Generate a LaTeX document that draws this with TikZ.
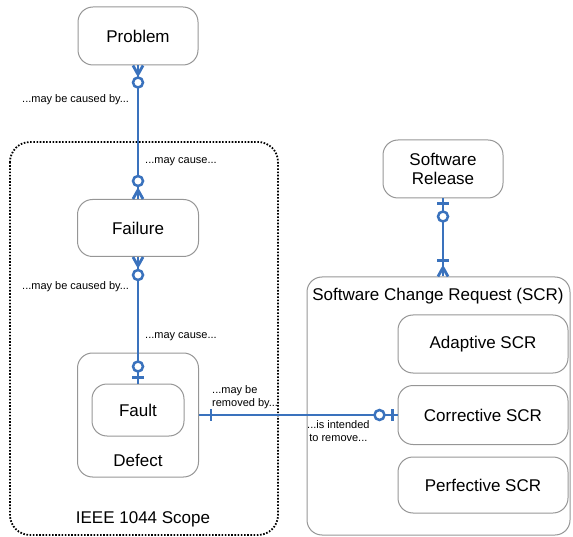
\documentclass[tikz,border=0pt]{standalone}
\usepackage{fontspec}
\setmainfont{Liberation Sans}
\usetikzlibrary{calc}
\definecolor{erblue}{RGB}{58,114,189}
\definecolor{boxgray}{RGB}{150,150,150}

\begin{document}
\begin{tikzpicture}[x=1pt,y=-1pt,
  entity/.style={draw=boxgray,line width=1pt,rounded corners=15pt,inner sep=0pt,align=center,font=\fontsize{17}{19.5}\selectfont},
  txt/.style={inner sep=0pt,font=\fontsize{17}{19.5}\selectfont},
  lbl/.style={inner sep=0pt,font=\fontsize{11}{13}\selectfont},
  rel/.style={draw=erblue,line width=2.8pt},
  ring/.style={draw=erblue,line width=2.5pt,fill=white}]
  \useasboundingbox (0,0) rectangle (573,537);

  % scope of the standard
  \draw[line width=1.8pt,dash pattern=on 1.6pt off 1.6pt,rounded corners=20pt] (10,142) rectangle (278,535);
  \node[txt] (scopetxt) at (143,519) {IEEE 1044 Scope};

  % entities on the left
  \node[entity,minimum width=120pt,minimum height=58pt] (problem) at (138,36) {Problem};
  \node[entity,minimum width=121pt,minimum height=57pt] (failure) at (138,228) {Failure};
  \node[entity,minimum width=121pt,minimum height=124pt] (defect) at (138,415) {};
  \node[entity,minimum width=92pt,minimum height=52pt] (fault) at (138,410) {Fault};
  \node[txt] (defecttxt) at (138,460) {Defect};

  % entities on the right
  \node[entity,minimum width=120pt,minimum height=58pt] (release) at (443,169) {Software\\Release};
  \node[entity,minimum width=263pt,minimum height=258pt] (scr) at (438.5,406) {};
  \node[txt] (scrtitle) at (438,296) {Software Change Request (SCR)};
  \node[entity,minimum width=170pt,minimum height=58pt] (adaptive) at (483,344) {Adaptive SCR};
  \node[entity,minimum width=170pt,minimum height=59pt] (corrective) at (483,415) {Corrective SCR};
  \node[entity,minimum width=170pt,minimum height=56pt] (perfective) at (483,485) {Perfective SCR};

  % relationships
  \draw[rel] (problem.south) -- (failure.north);
  \draw[rel] (failure.south) -- (fault.north);
  \draw[rel] (defect.east) -- (corrective.west);
  \coordinate (scrtop) at (release.south |- scr.north);
  \draw[rel] (release.south) -- (scrtop);

  % ends at problem / failure
  \draw[rel] ($(problem.south)+(0,9)$) -- ++(-5,-9) ($(problem.south)+(0,9)$) -- ++(5,-9);
  \draw[ring] ($(problem.south)+(0,17)$) circle[radius=5pt];
  \draw[rel] ($(failure.north)+(0,-9)$) -- ++(-5,9) ($(failure.north)+(0,-9)$) -- ++(5,9);
  \draw[ring] ($(failure.north)+(0,-18)$) circle[radius=5pt];
  \draw[rel] ($(failure.south)+(0,9)$) -- ++(-5,-9) ($(failure.south)+(0,9)$) -- ++(5,-9);
  \draw[ring] ($(failure.south)+(0,18)$) circle[radius=5pt];
  % ends at fault
  \draw[rel] ($(fault.north)+(-6,-6)$) -- ++(12,0);
  \draw[ring] ($(fault.north)+(0,-17)$) circle[radius=5pt];
  % ends on the horizontal line
  \draw[rel] ($(defect.east)+(12,-6)$) -- ++(0,12);
  \draw[rel] ($(corrective.west)+(-5,-6)$) -- ++(0,12);
  \draw[ring] ($(corrective.west)+(-18,0)$) circle[radius=5pt];
  % ends at release / scr
  \draw[rel] ($(release.south)+(-6,5)$) -- ++(12,0);
  \draw[ring] ($(release.south)+(0,18)$) circle[radius=5pt];
  \draw[rel] ($(scrtop)+(0,-9)$) -- ++(-5,9) ($(scrtop)+(0,-9)$) -- ++(5,9);
  \draw[rel] ($(scrtop)+(-6,-16)$) -- ++(12,0);

  % role texts
  \node[lbl,anchor=west] (causedone) at (22,100) {...may be caused by...};
  \node[lbl,anchor=west] (causeone) at (145,162) {...may cause...};
  \node[lbl,anchor=west] (causedtwo) at (22,287) {...may be caused by...};
  \node[lbl,anchor=west] (causetwo) at (145,337) {...may cause...};
  \node[lbl,anchor=west,align=left] (removedby) at (212,397) {...may be\\removed by...};
  \node[lbl,anchor=west,align=center] (toremove) at (307,431) {...is intended\\to remove...};
\end{tikzpicture}
\end{document}
